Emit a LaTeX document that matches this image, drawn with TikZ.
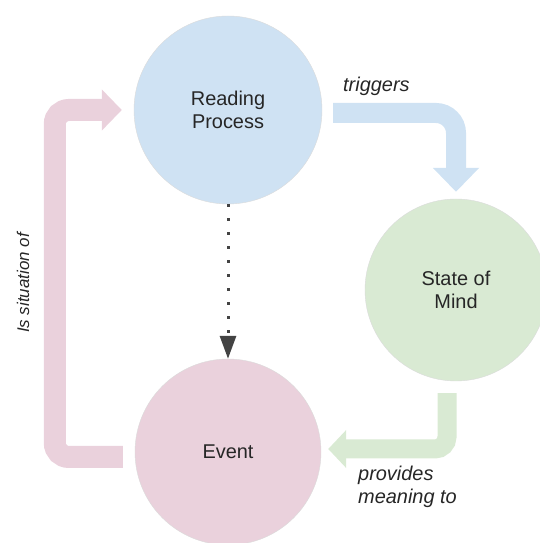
\documentclass[tikz,border=0pt]{standalone}
\usepackage{fontspec}
\setmainfont{Liberation Sans}
\usetikzlibrary{arrows.meta}

\definecolor{readblue}{HTML}{CFE2F3}
\definecolor{mindgreen}{HTML}{D9EAD3}
\definecolor{eventpink}{HTML}{EAD1DC}
\definecolor{dotgray}{HTML}{434343}

\tikzset{
	bubble/.style={circle, draw=black!14, line width=0.4bp, text=black!85, align=center,
		inner sep=0pt, font=\fontsize{20}{23}\selectfont},
	flow/.style={draw=#1, line cap=butt},
	lbl/.style={inner sep=0pt, text=black!85, font=\fontsize{20}{23}\selectfont\itshape},
	dotarrow/.style={draw=dotgray, line width=3bp, dash pattern=on 3bp off 11bp,
		-{Triangle[width=16bp,length=23bp]}},
}

\begin{document}
\begin{tikzpicture}[x=1bp, y=1bp]
			\useasboundingbox (0,0) rectangle (540,543);

			%%draw the circles
			\node[bubble, fill=readblue, minimum size=188bp] (reading) at (228,433) {Reading\\Process};
			\node[bubble, fill=mindgreen, minimum size=182bp] (state) at (456,253) {State of\\Mind};
			\node[bubble, fill=eventpink, minimum size=186bp] (event) at (228,91) {Event};

			%%draw the arrows
			%reading process to state of mind
			\draw[flow=readblue, line width=20bp, rounded corners=20bp, -{Triangle[width=45bp,length=24bp]}]
				([xshift=11bp,yshift=-3bp]reading.east) -| ([yshift=7bp]state.north);
				\node[lbl, anchor=base west] (trig) at (343,451) {triggers};
			%state of mind to event
			\draw[flow=mindgreen, line width=19bp, rounded corners=12bp, -{Triangle[width=37bp,length=18bp]}]
				([xshift=-9bp,yshift=-12bp]state.south) |- ([xshift=7bp,yshift=3bp]event.east);
				\node[lbl, anchor=north west, align=left] (prov) at (358,77) {provides\\meaning to};
			%event back to reading process
			\draw[flow=eventpink, line width=22bp, rounded corners=14bp, -{Triangle[width=40bp,length=20bp]}]
				([xshift=-12bp,yshift=-5bp]event.west) -- ++(-68,0) |- ([xshift=-12bp]reading.west);
				\node[lbl, rotate=90, font=\fontsize{17}{20}\selectfont\itshape] (situ) at (23,260) {Is situation of};

			%%draw the dotted link
			\draw[dotarrow] (reading) -- (event);
\end{tikzpicture}
\end{document}
